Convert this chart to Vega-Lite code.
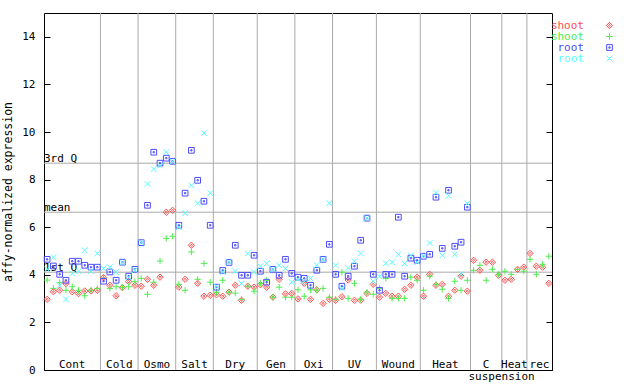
{
  "$schema": "https://vega.github.io/schema/vega-lite/v6.json",
  "width": 508,
  "height": 357,
  "autosize": {"type": "none"},
  "padding": {"left": 44, "top": 13, "right": 88, "bottom": 14},
  "background": "white",
  "config": {
    "view": {"stroke": "black", "strokeWidth": 1},
    "font": "DejaVu Sans Mono",
    "text": {"font": "DejaVu Sans Mono", "fontSize": 11, "color": "black"}
  },
  "datasets": {
    "samples": [
      {"k":0,"shoot1":2.97,"shoot2":3.78,"root1":4.65,"root2":4.23},
      {"k":1,"shoot1":3.29,"shoot2":3.43,"root1":4.37,"root2":4.74},
      {"k":2,"shoot1":3.35,"shoot2":3.67,"root1":4.02,"root2":3.56},
      {"k":3,"shoot1":3.63,"shoot2":3.35,"root1":3.77,"root2":2.97},
      {"k":4,"shoot1":3.29,"shoot2":3.50,"root1":4.57,"root2":4.06},
      {"k":5,"shoot1":3.21,"shoot2":3.35,"root1":4.57,"root2":4.15},
      {"k":6,"shoot1":3.32,"shoot2":3.12,"root1":4.40,"root2":5.03},
      {"k":7,"shoot1":3.32,"shoot2":3.35,"root1":4.32,"root2":4.15},
      {"k":8,"shoot1":3.35,"shoot2":3.43,"root1":4.32,"root2":4.90},
      {"k":9,"shoot1":3.88,"shoot2":3.85,"root1":3.73,"root2":4.27},
      {"k":10,"shoot1":3.56,"shoot2":3.43,"root1":4.12,"root2":4.32},
      {"k":11,"shoot1":3.12,"shoot2":3.50,"root1":3.77,"root2":4.11},
      {"k":12,"shoot1":3.46,"shoot2":3.48,"root1":4.53,"root2":4.53},
      {"k":13,"shoot1":3.71,"shoot2":3.50,"root1":3.94,"root2":3.90},
      {"k":14,"shoot1":3.56,"shoot2":3.71,"root1":4.23,"root2":4.20},
      {"k":15,"shoot1":3.52,"shoot2":3.85,"root1":5.35,"root2":5.35},
      {"k":16,"shoot1":3.81,"shoot2":3.18,"root1":6.92,"root2":7.82},
      {"k":17,"shoot1":3.56,"shoot2":3.69,"root1":9.15,"root2":8.44},
      {"k":18,"shoot1":3.90,"shoot2":4.58,"root1":8.69,"root2":8.59},
      {"k":19,"shoot1":6.63,"shoot2":5.53,"root1":8.90,"root2":9.15},
      {"k":20,"shoot1":6.71,"shoot2":5.62,"root1":8.77,"root2":8.77},
      {"k":21,"shoot1":3.48,"shoot2":3.60,"root1":6.08,"root2":6.00},
      {"k":22,"shoot1":3.81,"shoot2":3.35,"root1":7.43,"root2":6.59},
      {"k":23,"shoot1":5.24,"shoot2":4.96,"root1":9.23,"root2":7.76},
      {"k":24,"shoot1":3.64,"shoot2":3.81,"root1":7.97,"root2":7.01},
      {"k":25,"shoot1":3.10,"shoot2":4.48,"root1":7.09,"root2":9.95},
      {"k":26,"shoot1":3.14,"shoot2":3.69,"root1":6.08,"root2":7.43},
      {"k":27,"shoot1":3.16,"shoot2":3.27,"root1":3.48,"root2":3.52},
      {"k":28,"shoot1":3.10,"shoot2":3.77,"root1":4.18,"root2":4.12},
      {"k":29,"shoot1":3.27,"shoot2":3.27,"root1":4.52,"root2":4.55},
      {"k":30,"shoot1":3.56,"shoot2":3.23,"root1":5.24,"root2":4.15},
      {"k":31,"shoot1":2.93,"shoot2":2.97,"root1":3.98,"root2":3.64},
      {"k":32,"shoot1":3.52,"shoot2":3.52,"root1":3.98,"root2":4.90},
      {"k":33,"shoot1":3.48,"shoot2":3.31,"root1":4.82,"root2":4.11},
      {"k":34,"shoot1":3.58,"shoot2":3.64,"root1":4.15,"root2":4.36},
      {"k":35,"shoot1":3.48,"shoot2":3.77,"root1":3.69,"root2":4.48},
      {"k":36,"shoot1":3.06,"shoot2":3.06,"root1":4.23,"root2":4.23},
      {"k":37,"shoot1":3.81,"shoot2":3.48,"root1":3.98,"root2":4.40},
      {"k":38,"shoot1":3.20,"shoot2":3.06,"root1":4.65,"root2":4.27},
      {"k":39,"shoot1":3.22,"shoot2":3.06,"root1":4.06,"root2":3.69},
      {"k":40,"shoot1":2.99,"shoot2":3.37,"root1":3.90,"root2":3.81},
      {"k":41,"shoot1":3.64,"shoot2":3.10,"root1":3.85,"root2":3.73},
      {"k":42,"shoot1":2.97,"shoot2":3.37,"root1":3.56,"root2":3.85},
      {"k":43,"shoot1":3.37,"shoot2":3.35,"root1":4.19,"root2":4.40},
      {"k":44,"shoot1":2.80,"shoot2":3.43,"root1":4.65,"root2":4.65},
      {"k":45,"shoot1":2.97,"shoot2":3.06,"root1":5.28,"root2":7.01},
      {"k":46,"shoot1":2.93,"shoot2":2.97,"root1":4.02,"root2":4.40},
      {"k":47,"shoot1":3.08,"shoot2":4.11,"root1":3.52,"root2":3.43},
      {"k":48,"shoot1":3.78,"shoot2":3.01,"root1":3.94,"root2":4.27},
      {"k":49,"shoot1":2.93,"shoot2":3.64,"root1":4.36,"root2":4.57},
      {"k":50,"shoot1":2.93,"shoot2":2.97,"root1":5.45,"root2":4.90},
      {"k":51,"shoot1":3.22,"shoot2":3.27,"root1":6.38,"root2":6.38},
      {"k":52,"shoot1":3.60,"shoot2":3.18,"root1":4.02,"root2":3.73},
      {"k":53,"shoot1":3.06,"shoot2":3.43,"root1":3.35,"root2":3.94},
      {"k":54,"shoot1":3.22,"shoot2":3.85,"root1":4.02,"root2":4.48},
      {"k":55,"shoot1":3.10,"shoot2":3.01,"root1":4.02,"root2":4.53},
      {"k":56,"shoot1":3.10,"shoot2":3.01,"root1":6.42,"root2":4.86},
      {"k":57,"shoot1":3.39,"shoot2":3.01,"root1":3.94,"root2":4.48},
      {"k":58,"shoot1":3.56,"shoot2":3.90,"root1":4.70,"root2":4.82},
      {"k":59,"shoot1":3.90,"shoot2":3.77,"root1":4.61,"root2":4.53},
      {"k":60,"shoot1":3.10,"shoot2":3.35,"root1":4.78,"root2":4.80},
      {"k":61,"shoot1":4.02,"shoot2":3.94,"root1":4.86,"root2":5.34},
      {"k":62,"shoot1":3.56,"shoot2":3.60,"root1":7.26,"root2":7.45},
      {"k":63,"shoot1":3.60,"shoot2":3.39,"root1":5.11,"root2":4.82},
      {"k":64,"shoot1":3.10,"shoot2":3.01,"root1":7.55,"root2":7.32},
      {"k":65,"shoot1":3.35,"shoot2":3.73,"root1":5.20,"root2":4.86},
      {"k":66,"shoot1":3.94,"shoot2":3.35,"root1":5.37,"root2":4.02},
      {"k":67,"shoot1":3.31,"shoot2":3.77,"root1":6.84,"root2":7.00},
      {"k":68,"shoot1":4.61,"shoot2":4.19},
      {"k":69,"shoot1":4.19,"shoot2":4.40},
      {"k":70,"shoot1":4.53,"shoot2":3.77},
      {"k":71,"shoot1":4.53,"shoot2":4.23},
      {"k":72,"shoot1":3.98,"shoot2":4.02},
      {"k":73,"shoot1":3.77,"shoot2":4.15},
      {"k":74,"shoot1":3.81,"shoot2":4.02},
      {"k":75,"shoot1":4.23,"shoot2":4.23},
      {"k":76,"shoot1":4.32,"shoot2":4.15},
      {"k":77,"shoot1":4.90,"shoot2":4.65},
      {"k":78,"shoot1":4.36,"shoot2":4.02},
      {"k":79,"shoot1":4.32,"shoot2":4.44},
      {"k":80,"shoot1":3.64,"shoot2":4.78}
    ],
    "groups": [
      {"group":"Cont","from":-0.5,"to":8.5},
      {"group":"Cold","from":8.5,"to":14.5},
      {"group":"Osmo","from":14.5,"to":20.5},
      {"group":"Salt","from":20.5,"to":26.5},
      {"group":"Dry","from":26.5,"to":33.5},
      {"group":"Gen","from":33.5,"to":39.5},
      {"group":"Oxi","from":39.5,"to":45.5},
      {"group":"UV","from":45.5,"to":52.5},
      {"group":"Wound","from":52.5,"to":59.5},
      {"group":"Heat","from":59.5,"to":67.5},
      {"group":"C","sub":"suspension","from":67.5,"to":72.5},
      {"group":"Heat","from":72.5,"to":76.5},
      {"group":"rec","from":76.5,"to":80.5}
    ],
    "stats": [
      {"label":"3rd Q","v":8.69},
      {"label":"mean","v":6.63},
      {"label":"1st Q","v":4.11}
    ]
  },
  "resolve": {"axis": {"x": "independent", "y": "independent"}},
  "layer": [
    {
      "data": {"name": "groups"},
      "transform": [{"filter": "datum.to < 80"}],
      "mark": {"type": "rule", "color": "#aaaaaa", "strokeWidth": 1},
      "encoding": {
        "x": {"field": "to", "type": "quantitative", "scale": {"domain": [-0.5, 80.5], "nice": false, "zero": false}, "axis": null}
      }
    },
    {
      "data": {"name": "stats"},
      "mark": {"type": "rule", "color": "#aaaaaa", "strokeWidth": 1},
      "encoding": {
        "y": {"field": "v", "type": "quantitative", "scale": {"domain": [0, 15], "nice": false},
          "axis": {"orient": "right", "labels": false, "ticks": true, "tickSize": -6, "tickColor": "black", "domain": false, "grid": false, "title": null, "values": [0,2,4,6,8,10,12,14]}}
      }
    },
    {
      "data": {"name": "stats"},
      "mark": {"type": "text", "align": "left", "baseline": "alphabetic", "dy": -1, "fontSize": 11},
      "encoding": {
        "x": {"datum": -0.5, "type": "quantitative", "axis": null},
        "y": {"field": "v", "type": "quantitative", "axis": null},
        "text": {"field": "label"}
      }
    },
    {
      "data": {"name": "samples"},
      "transform": [
        {"fold": ["shoot1", "shoot2", "root1", "root2"], "as": ["series", "v"]},
        {"filter": "isValid(datum.v)"}
      ],
      "mark": {"type": "point", "filled": false, "size": 40, "strokeWidth": 1, "opacity": 1},
      "encoding": {
        "x": {"field": "k", "type": "quantitative", "axis": null},
        "y": {"field": "v", "type": "quantitative",
          "axis": {"orient": "left", "values": [0,2,4,6,8,10,12,14], "tickSize": -6, "tickColor": "black", "labelPadding": 15, "labelColor": "black", "labelFontSize": 11, "labelFont": "DejaVu Sans Mono", "domain": false, "grid": false,
            "title": "affy-normalized expression", "titleFont": "DejaVu Sans Mono", "titleFontSize": 11.5, "titleFontWeight": "normal", "titleColor": "black", "titlePadding": 8}},
        "color": {"field": "series", "type": "nominal",
          "scale": {"domain": ["shoot1", "shoot2", "root1", "root2"], "range": ["#ff4d4d", "#4dee4d", "#4d4dff", "#55ffff"]},
          "legend": {"orient": "none", "legendX": 560, "legendY": 7, "title": null, "padding": 0, "rowPadding": -1.8,
            "labelAlign": "right", "labelOffset": -31, "labelFont": "DejaVu Sans Mono", "labelFontSize": 11,
            "labelColor": {"expr": "scale('color', datum.value)"},
            "labelExpr": "slice(datum.label, 0, -1)", "symbolStrokeWidth": 1, "symbolSize": 40}},
        "shape": {"field": "series", "type": "nominal",
          "scale": {"domain": ["shoot1", "shoot2", "root1", "root2"],
            "range": ["M0,-1L1,0L0,1L-1,0Z M0,-0.35L0.35,0L0,0.35L-0.35,0Z", "M-1,0H1M0,-1V1", "M-0.9,-0.9H0.9V0.9H-0.9Z M-0.2,-0.2H0.2V0.2H-0.2Z", "M-0.9,-0.9L0.9,0.9M-0.9,0.9L0.9,-0.9"]}}
      }
    },
    {
      "data": {"name": "groups"},
      "transform": [{"calculate": "(datum.from + datum.to) / 2", "as": "mid"}],
      "mark": {"type": "text", "align": "center", "baseline": "alphabetic", "dy": -2, "fontSize": 11},
      "encoding": {
        "x": {"field": "mid", "type": "quantitative", "axis": null},
        "y": {"datum": 0, "type": "quantitative", "axis": null},
        "text": {"field": "group"}
      }
    },
    {
      "data": {"name": "groups"},
      "transform": [{"filter": "isValid(datum.sub)"}],
      "mark": {"type": "text", "align": "left", "baseline": "alphabetic", "dx": -2, "dy": 10, "fontSize": 11},
      "encoding": {
        "x": {"field": "from", "type": "quantitative", "axis": null},
        "y": {"datum": 0, "type": "quantitative", "axis": null},
        "text": {"field": "sub"}
      }
    }
  ]
}
